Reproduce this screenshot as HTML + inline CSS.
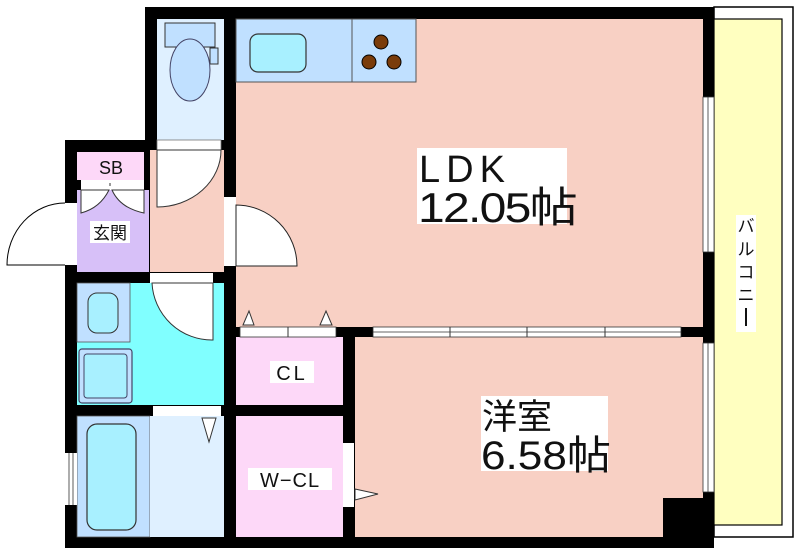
<!DOCTYPE html>
<html><head><meta charset="utf-8"><style>
html,body{margin:0;padding:0;background:#fff;width:800px;height:556px;overflow:hidden}
svg{display:block}
text{font-family:"Liberation Sans","Noto Sans CJK JP",sans-serif;fill:#111}
</style></head><body>
<svg width="800" height="556" viewBox="0 0 800 556" xmlns="http://www.w3.org/2000/svg">
<rect x="714" y="7" width="79" height="530" fill="#fff" stroke="#000" stroke-width="1.5"/>
<rect x="714" y="19" width="68" height="506" fill="#ffffc0" stroke="#000" stroke-width="1.2"/>
<rect x="736" y="215" width="20" height="117" fill="#fff"/>
<text x="746" y="232" font-size="17" text-anchor="middle">バ</text>
<text x="746" y="255" font-size="17" text-anchor="middle">ル</text>
<text x="746" y="278" font-size="17" text-anchor="middle">コ</text>
<text x="746" y="301" font-size="17" text-anchor="middle">ニ</text>
<rect x="745" y="308" width="2" height="18" fill="#111"/>

<rect x="145" y="7" width="569" height="541" fill="#000"/>
<rect x="65" y="140" width="92" height="408" fill="#000"/>

<rect x="236" y="19" width="467" height="308" fill="#f8d0c4"/>
<rect x="355" y="337" width="348" height="200" fill="#f8d0c4"/>
<rect x="663" y="498" width="40" height="39" fill="#000"/>
<rect x="157" y="19" width="67" height="121" fill="#dff0ff"/>
<rect x="150" y="150" width="74" height="122" fill="#f8d0c4"/>
<rect x="77" y="152" width="67" height="28" fill="#fdd8f8"/>
<rect x="77" y="190" width="72" height="82" fill="#d7c0f8"/>
<rect x="77" y="283" width="147" height="122" fill="#80ffff"/>
<rect x="77" y="416" width="73" height="121" fill="#c0e0ff" stroke="#555" stroke-width="0.8"/>
<rect x="150" y="416" width="74" height="121" fill="#dff0ff"/>
<rect x="236" y="337" width="107" height="68" fill="#fdd8f8"/>
<rect x="236" y="416" width="107" height="121" fill="#fdd8f8"/>

<rect x="236" y="19" width="180" height="63" fill="#c0e0ff" stroke="#555" stroke-width="1"/>
<line x1="352" y1="19" x2="352" y2="82" stroke="#555"/>
<rect x="250" y="34" width="56" height="38" rx="8" fill="#a8f0ff" stroke="#333" stroke-width="1.2"/>
<circle cx="381" cy="42" r="7" fill="#7a3c0a" stroke="#000"/>
<circle cx="369" cy="62" r="7" fill="#7a3c0a" stroke="#000"/>
<circle cx="394" cy="62" r="7" fill="#7a3c0a" stroke="#000"/>

<rect x="165" y="23" width="50" height="24" fill="#c0e0ff" stroke="#333"/>
<rect x="210" y="48" width="8" height="16" fill="#c0e0ff" stroke="#333"/>
<ellipse cx="190" cy="70" rx="20" ry="31" fill="#c0e0ff" stroke="#446"/>
<rect x="157" y="140" width="64" height="10" fill="#fff" stroke="#777" stroke-width="0.8"/>
<path d="M157 150 L221 150 A64 57 0 0 1 157 207 Z" fill="#fff" stroke="#333"/>

<rect x="81" y="180" width="63" height="10" fill="#fff"/>
<line x1="110" y1="183" x2="110" y2="186" stroke="#333"/>
<path d="M81 190 L81 213 Q100 208 109 190 Z M144 190 L144 213 Q120 208 112 190 Z" fill="#fff" stroke="#333"/>
<rect x="65" y="203" width="12" height="62" fill="#fff"/>
<path d="M65 203 A58 62 0 0 0 7 265 L65 265" fill="none" stroke="#000"/>
<rect x="90" y="221" width="40" height="22" fill="#fff"/>
<text x="110" y="239" font-size="17" text-anchor="middle">玄関</text>
<text x="111" y="174" font-size="18" text-anchor="middle">SB</text>

<rect x="224" y="197" width="12" height="69" fill="#fff"/>
<path d="M236 205 A61 61 0 0 1 297 266 L236 266 Z" fill="#fff" stroke="#222"/>

<rect x="150" y="273" width="63" height="10" fill="#fff"/>
<path d="M152 283 A60 60 0 0 0 213 340 L213 283 Z" fill="#fff" stroke="#333"/>
<rect x="77" y="283" width="53" height="59" fill="#c0e0ff" stroke="#555" stroke-width="0.8"/>
<rect x="88" y="293" width="30" height="40" rx="9" fill="#a8f0ff" stroke="#333"/>
<rect x="79" y="349" width="53" height="54" rx="3" fill="#c0e0ff" stroke="#446" stroke-width="1.2"/>
<rect x="84" y="354" width="43" height="44" rx="3" fill="#a8f0ff" stroke="#446"/>
<rect x="153" y="406" width="68" height="10" fill="#fff"/>
<path d="M202 418 L216 418 L209 442 Z" fill="#fff" stroke="#333"/>

<rect x="87" y="424" width="49" height="106" rx="10" fill="#a8f0ff" stroke="#333" stroke-width="1.2"/>
<rect x="65" y="453" width="12" height="52" fill="#fff"/>
<line x1="69" y1="453" x2="69" y2="505" stroke="#333" stroke-width="0.8"/>
<line x1="73" y1="453" x2="73" y2="505" stroke="#333" stroke-width="0.8"/>

<rect x="240" y="327" width="96" height="10" fill="#fff" stroke="#333" stroke-width="0.8"/>
<line x1="288" y1="327" x2="288" y2="337" stroke="#333"/>
<path d="M243 325 L249 311 L254 325 Z M320 325 L326 311 L332 325 Z" fill="#fff" stroke="#333"/>
<rect x="343" y="443" width="11" height="64" fill="#fff"/>
<path d="M355 489 L378 494 L355 500 Z" fill="#fff" stroke="#333"/>

<rect x="373" y="327" width="308" height="10" fill="#fff" stroke="#333" stroke-width="0.8"/>
<line x1="373" y1="332" x2="681" y2="332" stroke="#333" stroke-width="0.8"/>
<line x1="527" y1="327" x2="527" y2="337" stroke="#333"/>
<line x1="450" y1="327" x2="450" y2="337" stroke="#333"/>
<line x1="605" y1="327" x2="605" y2="337" stroke="#333"/>

<rect x="703" y="97" width="11" height="155" fill="#fff" stroke="#333" stroke-width="0.8"/>
<line x1="708" y1="97" x2="708" y2="252" stroke="#333" stroke-width="0.8"/>
<rect x="703" y="343" width="11" height="149" fill="#fff" stroke="#333" stroke-width="0.8"/>
<line x1="708" y1="343" x2="708" y2="492" stroke="#333" stroke-width="0.8"/>

<rect x="417" y="148" width="150" height="76" fill="#fff"/>
<text x="419" y="182" font-size="38" letter-spacing="6">LDK</text>
<text x="418" y="222" font-size="42" letter-spacing="-1.5" textLength="158" lengthAdjust="spacingAndGlyphs">12.05帖</text>
<rect x="481" y="396" width="127" height="75" fill="#fff"/>
<text x="482" y="429" font-size="35">洋室</text>
<text x="481" y="469" font-size="40" textLength="130" lengthAdjust="spacingAndGlyphs">6.58帖</text>
<rect x="270" y="361" width="44" height="22" fill="#fff"/>
<text x="292" y="380" font-size="20" text-anchor="middle" letter-spacing="3">CL</text>
<rect x="248" y="468" width="84" height="22" fill="#fff"/>
<text x="290" y="487" font-size="20" text-anchor="middle" letter-spacing="1">W−CL</text>
</svg>
</body></html>
